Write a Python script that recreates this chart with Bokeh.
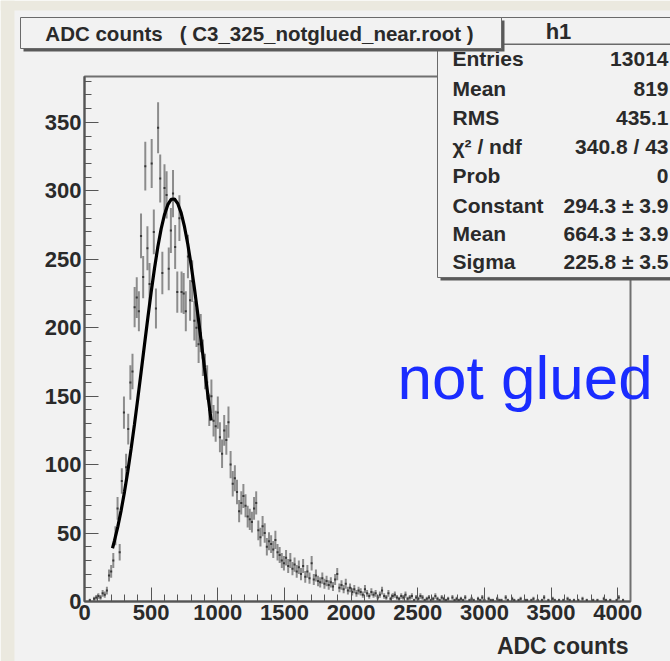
import numpy as np
from bokeh.plotting import figure
from bokeh.models import Range1d, SingleIntervalTicker, ColumnDataSource
from bokeh.core.properties import value
from bokeh.embed import file_html
from bokeh.resources import INLINE

# ---------------- data ----------------
bin_width = 16          # ADC channels per bin (256 bins over 0..4096)
x_start, x_end = 0, 4096
y_start, y_end = 0, 383.5

counts = [
    0, 0, 1, 0, 2, 3, 4, 3, 6, 5, 8, 19, 22, 30, 48, 68,
    36, 88, 138, 98, 126, 160, 168, 215, 222, 212, 267, 237, 318, 258, 232, 320,
    270, 214, 346, 309, 240, 302, 297, 243, 271, 298, 259, 226, 280, 226, 225, 212,
    252, 220, 234, 205, 200, 188, 196, 178, 168, 160, 140, 150, 132, 128, 138, 120,
    108, 125, 118, 131, 100, 86, 90, 80, 66, 72, 77, 70, 62, 60, 58, 68,
    72, 52, 47, 55, 50, 40, 44, 42, 38, 45, 36, 34, 30, 28, 32, 26,
    30, 24, 27, 22, 25, 20, 26, 18, 22, 17, 28, 16, 19, 15, 14, 17,
    13, 15, 12, 14, 11, 16, 20, 10, 12, 9, 13, 8, 10, 7, 9, 6,
    8, 7, 5, 9, 6, 4, 7, 5, 6, 3, 5, 8, 4, 3, 6, 2,
    4, 5, 3, 2, 4, 3, 5, 2, 3, 4, 1, 3, 2, 4, 3, 1,
    2, 3, 1, 2, 4, 2, 1, 3, 2, 1, 2, 0, 3, 1, 2, 1,
    2, 1, 3, 0, 1, 2, 1, 0, 2, 1, 3, 1, 0, 2, 1, 1,
    0, 2, 1, 1, 0, 3, 1, 0, 2, 1, 0, 1, 2, 0, 1, 1,
    0, 1, 2, 0, 1, 0, 1, 3, 0, 1, 0, 2, 1, 0, 1, 0,
    1, 0, 2, 1, 0, 1, 0, 1, 0, 2, 0, 1, 0, 0, 1, 0,
    1, 0, 0, 2, 1, 0, 1, 0, 0, 1, 3, 0, 1, 0, 0, 0,
]

# Gaussian fit curve
fit_x = [210, 225, 250, 275, 300, 325, 350, 375, 400, 425, 450, 475, 500, 525,
         550, 575, 600, 625, 650, 675, 700, 725, 750, 775, 800, 825, 850, 875,
         900, 925, 950]
fit_y = [38.9, 44.4, 54.7, 66.6, 80.1, 95.2, 111.7, 129.5, 148.4, 167.8, 187.6,
         207.1, 225.9, 243.3, 258.9, 272.2, 282.6, 289.9, 293.7, 294.0, 290.6,
         283.9, 273.8, 261.0, 245.7, 228.5, 209.8, 190.4, 170.7, 151.1, 132.2]

x_tick_interval = 500
y_tick_interval = 50

title_text = "ADC counts\u00a0\u00a0\u00a0( C3_325_notglued_near.root )"
hist_name = "h1"
stats_names = ["Entries", "Mean", "RMS", "\u03c7\u00b2 / ndf", "Prob", "Constant", "Mean", "Sigma"]
stats_values = ["13014", "819", "435.1", "340.8 / 43", "0",
                "294.3 \u00b1 3.9", "664.3 \u00b1 3.9", "225.8 \u00b1 3.5"]
x_title = "ADC counts"
note_text = "not glued"

# ---------------- styling ----------------
W, H = 670, 661
CANVAS = "#f2f2f2"
BEIGE = "#ebe9df"
DARK = "#2a2a2a"
BORDER = "#6a6a6a"
SHADOW = "#5a5a5a"
FONT = "Liberation Sans"

# ================= histogram figure =================
p = figure(width=W, height=H,
           x_range=Range1d(x_start, x_end), y_range=Range1d(y_start, y_end),
           output_backend="svg", toolbar_location=None,
           min_border_left=84, min_border_right=40,
           min_border_top=76, min_border_bottom=60,
           background_fill_color=CANVAS, border_fill_color=CANVAS,
           outline_line_color="#707070", outline_line_width=2)
p.xgrid.visible = False
p.ygrid.visible = False

p.xaxis.ticker = SingleIntervalTicker(interval=x_tick_interval, num_minor_ticks=5)
p.yaxis.ticker = SingleIntervalTicker(interval=y_tick_interval, num_minor_ticks=5)
for ax in (p.xaxis[0], p.yaxis[0]):
    ax.major_tick_in = 14
    ax.major_tick_out = 0
    ax.minor_tick_in = 7
    ax.minor_tick_out = 0
    ax.major_tick_line_color = "#555555"
    ax.minor_tick_line_color = "#555555"
    ax.axis_line_color = "#555555"
    ax.axis_line_width = 2
    ax.major_label_text_font = FONT
    ax.major_label_text_font_style = "bold"
    ax.major_label_text_font_size = "22px"
    ax.major_label_text_color = DARK
    ax.major_label_standoff = 3

c = np.array(counts, dtype=float)
lo = np.arange(len(c)) * bin_width + x_start
hi = lo + bin_width
ctr = lo + bin_width / 2.0
err = np.sqrt(c)
m = c > 0
src = ColumnDataSource(dict(x=ctr[m], lo=lo[m], hi=hi[m], y=c[m],
                            ylo=(c - err)[m], yhi=(c + err)[m]))
p.segment(x0="x", y0="ylo", x1="x", y1="yhi", source=src,
          line_color="black", line_alpha=0.42, line_width=2)
p.segment(x0="lo", y0="y", x1="hi", y1="y", source=src,
          line_color="black", line_alpha=0.6, line_width=2)
p.line(fit_x, fit_y, line_color="black", line_width=3.2)

# ================= overlay figure for the pave boxes and texts =================
# pixel coordinates of the canvas (y grows downwards); a separate root placed on top
d = figure(width=W, height=H, x_range=Range1d(0, W), y_range=Range1d(H, 0),
           output_backend="svg", toolbar_location=None, min_border=0,
           x_axis_location=None, y_axis_location=None,
           background_fill_alpha=0, border_fill_alpha=0, outline_line_color=None,
           styles={"position": "absolute", "left": "0px", "top": "0px"})
d.grid.visible = False


def rect(l, t, r, b, fill, line=None, lw=1):
    d.quad(left=[l], right=[r], top=[t], bottom=[b], fill_color=fill,
           line_color=line, line_width=lw)


def txt(x, y, s, size, align="left", style="bold", color=DARK):
    d.text(x=[x], y=[y], text=[s], text_font=value(FONT),
           text_font_style=value(style), text_font_size=value(size),
           text_align=value(align), text_baseline=value("middle"),
           text_color=value(color))


# beige slide background around the ROOT canvas
rect(0, 0, 14, H, BEIGE)
rect(0, 0, W, 10, BEIGE)

# stats box
rect(440, 20, 700, 280, SHADOW)
rect(437, 17, 700, 277, CANVAS, BORDER, 1)
row_y = [58, 88, 117, 146, 175, 205, 233, 261]
for ry, name, val in zip(row_y, stats_names, stats_values):
    txt(452, ry, name, "21px")
    txt(668, ry, val, "21px", align="right")
rect(438, 43.5, 700, 51, CANVAS)
rect(437, 43, 700, 44.5, BORDER)
txt(558, 31, hist_name, "22px", align="center")

# title box
rect(23, 20, 504, 51, SHADOW)
rect(20, 17, 501, 48, CANVAS, BORDER, 1)
txt(259, 33, title_text, "20.5px", align="center")

# axis title and annotation
txt(628, 645, x_title, "23px", align="right")
txt(397, 377, note_text, "62px", align="left", style="normal", color="#1a2cff")

open("out.html", "w").write(file_html([p, d], INLINE))
